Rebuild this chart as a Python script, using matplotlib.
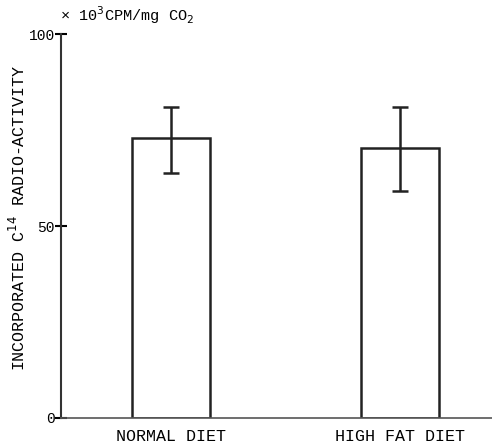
import matplotlib.pyplot as plt
import numpy as np

# values
diets = ['NORMAL DIET', 'HIGH FAT DIET']
activity = [72.9, 70.3]
err_low = [63.8, 59.1]
err_high = [81.0, 81.0]
y_ticks = [0, 50, 100]

plt.rcParams['font.family'] = ['Liberation Mono', 'DejaVu Sans Mono']

fig = plt.figure(figsize=(4.92, 4.44), dpi=100)
ax = fig.add_axes([0.124, 0.0586, 0.876, 0.8645])

x = np.arange(len(diets))
act = np.array(activity)
yerr = [act - np.array(err_low), np.array(err_high) - act]
ax.bar(x, act, width=0.34, color='white', edgecolor='#222222', linewidth=1.8)
ax.errorbar(x, act, yerr=yerr, fmt='none', ecolor='#222222', elinewidth=1.8,
            capsize=6, capthick=1.8)

ax.set_xlim(-0.48, 1.40)
ax.set_ylim(0, 100)
ax.set_yticks(y_ticks)
ax.set_yticklabels([str(t) for t in y_ticks], fontsize=10.5)
ax.set_xticks(x)
ax.set_xticklabels(diets, fontsize=12)
ax.tick_params(axis='x', length=0, pad=8)
ax.tick_params(axis='y', direction='inout', length=9, width=1.5, pad=0)

for s in ['top', 'right']:
    ax.spines[s].set_visible(False)
ax.spines['left'].set_linewidth(1.5)
ax.spines['bottom'].set_linewidth(1.2)
ax.spines['left'].set_color('#333333')
ax.spines['bottom'].set_color('#555555')

fig.text(0.037, 0.51, 'INCORPORATED C$^{14}$ RADIO-ACTIVITY', rotation=90,
         ha='center', va='center', fontsize=12)
fig.text(0.122, 0.965, '× 10$^3$CPM/mg CO$_2$', ha='left', va='center', fontsize=11)

fig.savefig('out.png', dpi=100)
